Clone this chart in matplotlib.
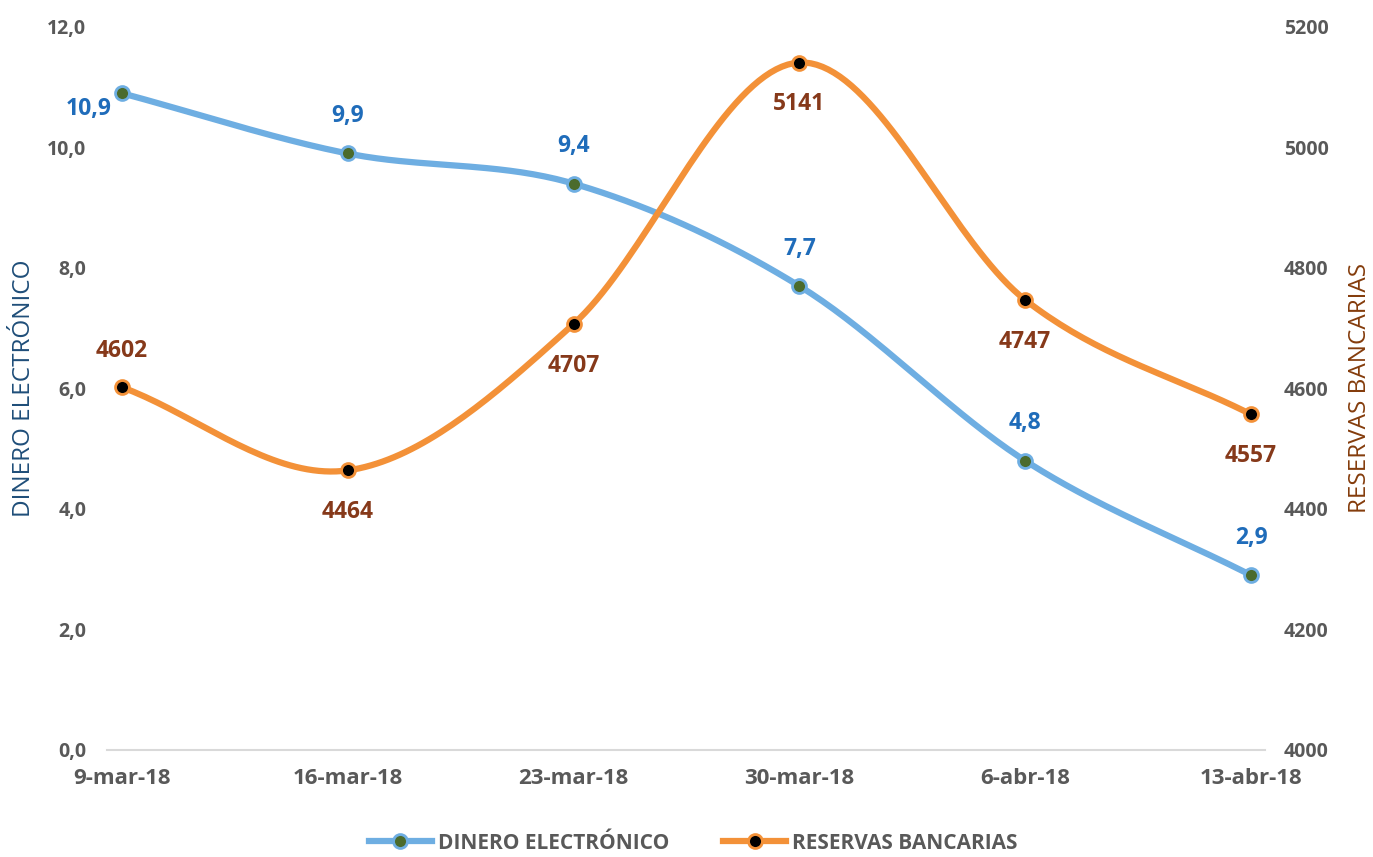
import numpy as np
import matplotlib
matplotlib.use("Agg")
import matplotlib.pyplot as plt

fechas = ["9-mar-18", "16-mar-18", "23-mar-18", "30-mar-18", "6-abr-18", "13-abr-18"]
dinero = [10.9, 9.9, 9.4, 7.7, 4.8, 2.9]
reservas = [4602, 4464, 4707, 5141, 4747, 4557]

plt.rcParams['font.family'] = ['Open Sans', 'DejaVu Sans']

BLUE = "#6EAEE2"
BLUE_TXT = "#1F6CBA"
ORANGE = "#F39138"
BROWN = "#86391A"
GREY = "#595959"


def smooth(x, y, n=40):
    """catmull-rom style smoothing, similar to the excel smoothed line"""
    x = np.asarray(x, float)
    y = np.asarray(y, float)
    px = np.concatenate([[2 * x[0] - x[1]], x, [2 * x[-1] - x[-2]]])
    py = np.concatenate([[2 * y[0] - y[1]], y, [2 * y[-1] - y[-2]]])
    xs, ys = [], []
    t = np.linspace(0, 1, n)
    for i in range(1, len(px) - 2):
        p0, p1, p2, p3 = [np.array([px[j], py[j]]) for j in range(i - 1, i + 3)]
        c1 = p1 + (p2 - p0) / 6
        c2 = p2 - (p3 - p1) / 6
        pts = ((1 - t) ** 3)[:, None] * p1 + (3 * (1 - t) ** 2 * t)[:, None] * c1 \
            + (3 * (1 - t) * t ** 2)[:, None] * c2 + (t ** 3)[:, None] * p2
        xs.extend(pts[:, 0])
        ys.extend(pts[:, 1])
    return np.array(xs), np.array(ys)


x = np.arange(len(fechas))

fig = plt.figure(figsize=(13.73, 8.57), dpi=100)
ax = fig.add_axes([0.078, 0.125, 0.843, 0.8435])
ax2 = ax.twinx()

sx, sy = smooth(x, dinero)
ax.plot(sx, sy, color=BLUE, lw=4.5, solid_capstyle='round', zorder=3)
ax.plot(x, dinero, ls='none', marker='o', ms=10, mfc="#4B6B2C", mec=BLUE, mew=2, zorder=4)

rx, ry = smooth(x, reservas)
ax2.plot(rx, ry, color=ORANGE, lw=4.5, solid_capstyle='round', zorder=3)
ax2.plot(x, reservas, ls='none', marker='o', ms=10, mfc="black", mec=ORANGE, mew=2, zorder=4)

# data labels
for i, v in enumerate(dinero):
    txt = f"{v:.1f}".replace(".", ",")
    if i == 0:
        ax.annotate(txt, (i, v), xytext=(-24, -11), textcoords='offset points',
                    ha='center', va='center', color=BLUE_TXT, fontsize=16.5, fontweight='bold')
    else:
        ax.annotate(txt, (i, v), xytext=(0, 27), textcoords='offset points',
                    ha='center', va='center', color=BLUE_TXT, fontsize=16.5, fontweight='bold')

for i, v in enumerate(reservas):
    dy = 26 if i == 0 else -30
    ax2.annotate(str(v), (i, v), xytext=(0, dy), textcoords='offset points',
                 ha='center', va='center', color=BROWN, fontsize=16.5, fontweight='bold')

ax.set_xlim(-0.066, 5.06)
ax.set_ylim(0, 12)
ax2.set_ylim(4000, 5200)
ax.set_yticks(np.arange(0, 12.1, 2))
ax.set_yticklabels([f"{v:.1f}".replace(".", ",") for v in np.arange(0, 12.1, 2)])
ax2.set_yticks(np.arange(4000, 5201, 200))
ax.set_xticks(x)
ax.set_xticklabels(fechas)

for a in (ax, ax2):
    for s in a.spines.values():
        s.set_visible(False)
    a.tick_params(length=0, colors=GREY)
    for lab in a.get_yticklabels():
        lab.set_fontweight('bold')
        lab.set_fontsize(14)
for lab in ax.get_xticklabels():
    lab.set_fontweight('bold')
    lab.set_fontsize(16)
ax.spines['bottom'].set_visible(True)
ax.spines['bottom'].set_color("#D9D9D9")
ax.spines['bottom'].set_linewidth(1.5)
ax.tick_params(axis='x', pad=13)
ax.tick_params(axis='y', pad=15)
ax2.tick_params(axis='y', pad=14)

ax.set_ylabel("DINERO ELECTRÓNICO", color="#1F4E79", fontsize=17.5)
ax.yaxis.set_label_coords(-0.061, 0.5)
ax2.set_ylabel("RESERVAS BANCARIAS", color="#843C0C", fontsize=17.5)
ax2.yaxis.set_label_coords(1.072, 0.5)

# legend
h1 = plt.Line2D([], [], color=BLUE, lw=4.5, marker='o', ms=10, mfc="#4B6B2C", mec=BLUE, mew=2)
h2 = plt.Line2D([], [], color=ORANGE, lw=4.5, marker='o', ms=10, mfc="black", mec=ORANGE, mew=2)
leg = fig.legend([h1, h2], ["DINERO ELECTRÓNICO", "RESERVAS BANCARIAS"], loc='center',
                 bbox_to_anchor=(0.505, 0.016), ncol=2, frameon=False, fontsize=15,
                 handlelength=3.0, columnspacing=2.6, handletextpad=0.3)
for t in leg.get_texts():
    t.set_color(GREY)
    t.set_fontweight('bold')

fig.savefig("out.png", dpi=100)
